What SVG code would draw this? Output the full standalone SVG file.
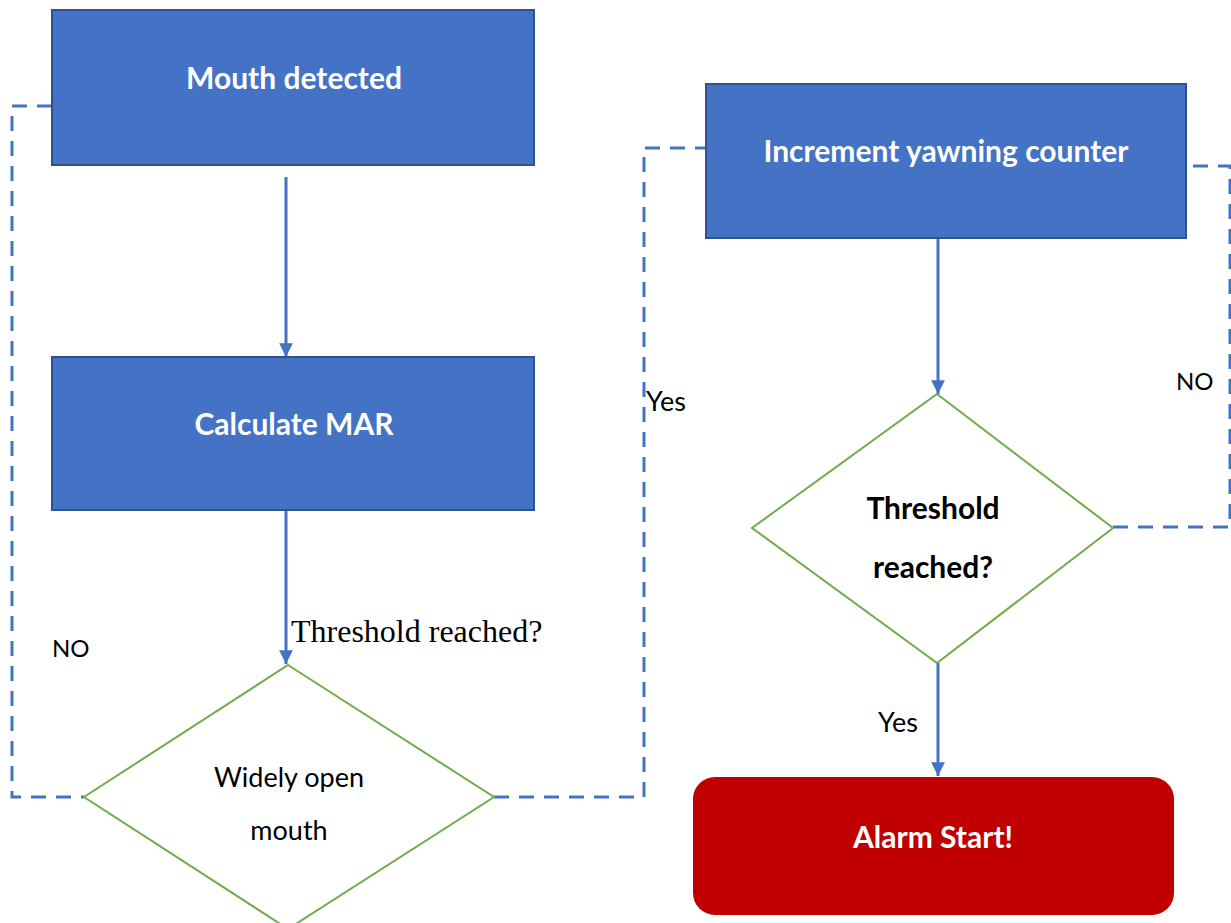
<svg xmlns="http://www.w3.org/2000/svg" width="1231" height="923" viewBox="0 0 1231 923">
  <defs>
    <marker id="arrow" viewBox="0 0 10 10" refX="10" refY="5" markerWidth="4.6" markerHeight="4.6" orient="auto" markerUnits="strokeWidth">
      <path d="M0,0 L10,5 L0,10 z" fill="#4472C4"/>
    </marker>
    <style>
      .box { fill: #4472C4; stroke: #2F528F; stroke-width: 2; }
      .alarm { fill: #C00000; }
      .dec { fill: #FFFFFF; stroke: #70AD47; stroke-width: 2; }
      .flow { fill: none; stroke: #4472C4; stroke-width: 3; }
      .dash { fill: none; stroke: #4472C4; stroke-width: 3; stroke-dasharray: 15 10; }
      .wt { font-family: Lato, "Open Sans", sans-serif; font-weight: bold; font-size: 30px; fill: #FFFFFF; text-anchor: middle; }
      .bt { font-family: Lato, "Open Sans", sans-serif; font-size: 27px; fill: #000000; text-anchor: middle; }
      .bb { font-family: Lato, "Open Sans", sans-serif; font-weight: bold; font-size: 30px; fill: #000000; text-anchor: middle; }
      .lbl { font-family: Lato, "Open Sans", sans-serif; font-size: 24px; fill: #000000; }
      .yes { font-size: 27px; }
      .serif { font-family: "Liberation Serif", serif; font-size: 32px; fill: #000000; }
    </style>
  </defs>

  <rect width="1231" height="923" fill="#FFFFFF"/>

  <g id="connectors">
    <line class="flow" x1="286" y1="177" x2="286" y2="357" marker-end="url(#arrow)"/>
    <line class="flow" x1="286" y1="510" x2="286" y2="664" marker-end="url(#arrow)"/>
    <line class="flow" x1="938" y1="238" x2="938" y2="394" marker-end="url(#arrow)"/>
    <line class="flow" x1="938" y1="663" x2="938" y2="776" marker-end="url(#arrow)"/>
    <polyline class="dash" points="52,106 12,106 12,797 84,797"/>
    <polyline class="dash" points="494,797 644,797 644,148 706,148"/>
    <polyline class="dash" points="1113,527 1230,527 1230,166 1190,166"/>
    <text class="serif" x="291" y="642">Threshold reached?</text>
    <text class="lbl" x="52" y="657">NO</text>
    <text class="lbl yes" x="646" y="411">Yes</text>
    <text class="lbl" x="1176" y="390">NO</text>
    <text class="lbl yes" x="878" y="732">Yes</text>
  </g>

  <g id="mouth-detected">
    <rect class="box" x="52" y="10" width="482" height="155"/>
    <text class="wt" x="294" y="89">Mouth detected</text>
  </g>

  <g id="calculate-mar">
    <rect class="box" x="52" y="357" width="482" height="153"/>
    <text class="wt" x="294" y="435">Calculate MAR</text>
  </g>

  <g id="widely-open-mouth">
    <polygon class="dec" points="288,665 494,797 288,929 84,797"/>
    <text class="bt" x="289" y="787">Widely open</text>
    <text class="bt" x="289" y="840">mouth</text>
  </g>

  <g id="increment-counter">
    <rect class="box" x="706" y="84" width="480" height="154"/>
    <text class="wt" x="946" y="162">Increment yawning counter</text>
  </g>

  <g id="threshold-reached">
    <polygon class="dec" points="937,394 1113,528 937,663 752,528"/>
    <text class="bb" x="933" y="519">Threshold</text>
    <text class="bb" x="933" y="578">reached?</text>
  </g>

  <g id="alarm-start">
    <rect class="alarm" x="693" y="777" width="481" height="138" rx="22" ry="22"/>
    <text class="wt" x="933" y="848">Alarm Start!</text>
  </g>
</svg>
